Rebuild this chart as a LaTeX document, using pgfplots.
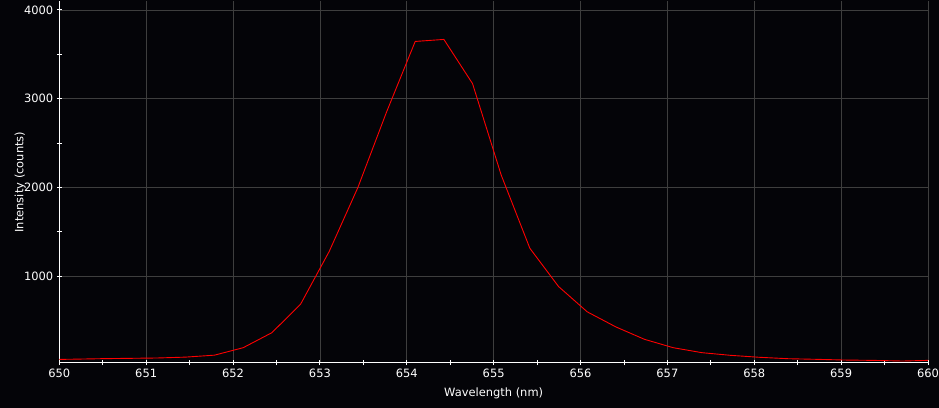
\documentclass[border=0pt]{standalone}
\usepackage{fontspec}
\setmainfont{DejaVu Sans}
\usepackage{pgfplots}
\usepackage{pgfplotstable}
\pgfplotsset{compat=1.18}
\usetikzlibrary{backgrounds,calc}
\definecolor{bg}{RGB}{4,4,8}
\definecolor{gridgray}{RGB}{62,62,62}

% spectrum
\pgfplotstableread{
x        y
649.807  62
650.137  66
650.467  72
650.797  76
651.127  80
651.457  90
651.787  112
652.117  196
652.447  365
652.777  685
653.107  1280
653.437  2000
653.767  2850
654.097  3645
654.427  3668
654.757  3170
655.087  2140
655.417  1315
655.747  885
656.077  600
656.407  430
656.737  290
657.067  196
657.397  140
657.727  110
658.057  88
658.387  72
658.717  65
659.047  57
659.377  53
659.707  46
660.037  54
}\spectrum

\begin{document}
\begin{tikzpicture}
\begin{axis}[
    name=ax,
    scale only axis,
    width=868.7bp, height=361.2bp,
    xmin=650, xmax=660,
    ymin=27, ymax=4095,
    xtick={650,...,660},
    ytick={1000,2000,3000,4000},
    minor x tick num=1, minor y tick num=1,
    grid=major,
    major grid style={gridgray, line width=0.8bp},
    axis x line*=bottom, axis y line*=left,
    axis line style={-, white, line width=0.9bp},
    tick style={white, line width=0.9bp},
    tick align=center,
    major tick length=5bp, minor tick length=5bp,
    ticklabel style={white, font=\fontsize{11.5}{13}\selectfont},
    /pgf/number format/assume math mode=true,
    /pgf/number format/set thousands separator={},
    label style={white, font=\fontsize{11.5}{13}\selectfont},
    xlabel={Wavelength (nm)},
    ylabel={Intensity (counts)},
    xlabel style={at={(axis description cs:0.5,-0.084)}, anchor=center},
    ylabel style={at={(axis description cs:-0.045,0.5)}, anchor=center},
]
\addplot[red, line width=0.9bp, no marks] table[x=x, y=y] {\spectrum};
\end{axis}
\begin{scope}[on background layer]
\fill[bg] ($(ax.south west)+(-59.3bp,-45.3bp)$) rectangle ($(ax.north east)+(11bp,1.5bp)$);
\end{scope}
\pgfresetboundingbox
\path ($(ax.south west)+(-59.3bp,-45.3bp)$) rectangle ($(ax.north east)+(11bp,1.5bp)$);
\end{tikzpicture}
\end{document}
